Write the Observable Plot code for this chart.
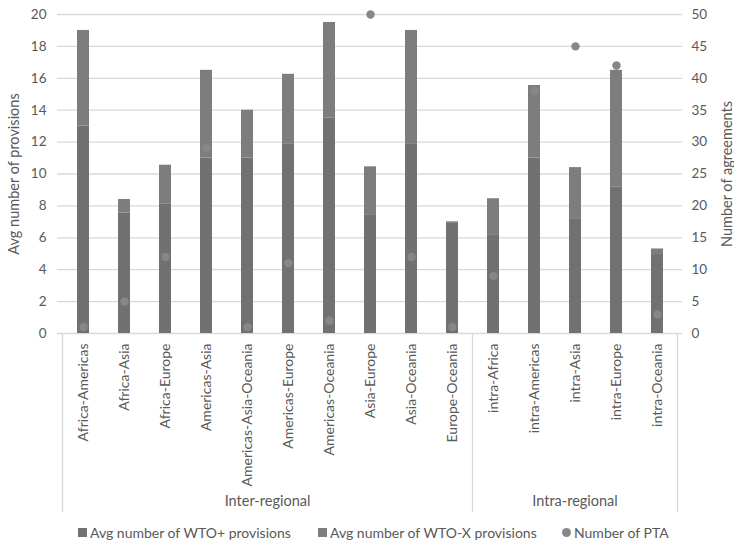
<!DOCTYPE html>
<html>
<head>
<meta charset="utf-8">
<script src="https://cdn.jsdelivr.net/npm/d3@7"></script>
<script src="https://cdn.jsdelivr.net/npm/@observablehq/plot@0.6"></script>
<style>
  body { margin: 0; background: #fff; font-family: Lato, "Open Sans", sans-serif; }
  #legend { font-size: 14px; color: #595959; height: 28px; position: relative; }
  .item { display: flex; align-items: center; position: absolute; top: 9px; }
  .sw { width: 9px; height: 9px; margin-right: 3px; }
  .dotsw { width: 9px; height: 9px; border-radius: 50%; margin-right: 3px; }
</style>
</head>
<body>
<div id="chart"></div>
<div id="legend"></div>
<script>
const categories = ["Africa-Americas","Africa-Asia","Africa-Europe","Americas-Asia","Americas-Asia-Oceania","Americas-Europe","Americas-Oceania","Asia-Europe","Asia-Oceania","Europe-Oceania","intra-Africa","intra-Americas","intra-Asia","intra-Europe","intra-Oceania"];
const groups = ["Inter-regional","Inter-regional","Inter-regional","Inter-regional","Inter-regional","Inter-regional","Inter-regional","Inter-regional","Inter-regional","Inter-regional","Intra-regional","Intra-regional","Intra-regional","Intra-regional","Intra-regional"];
const wtoPlus = [13.0, 7.55, 8.1, 11.0, 11.0, 11.9, 13.5, 7.45, 11.9, 6.9, 6.15, 11.0, 7.2, 9.2, 4.95];
const wtoX    = [6.0, 0.85, 2.45, 5.5, 3.0, 4.35, 6.0, 3.0, 7.1, 0.1, 2.3, 4.55, 3.2, 7.3, 0.35];
const pta     = [1, 5, 12, 29, 1, 11, 2, 50, 12, 1, 9, 38, 45, 42, 3];
const seriesNames = ["Avg number of WTO+ provisions", "Avg number of WTO-X provisions", "Number of PTA"];
const leftTicks = [0,2,4,6,8,10,12,14,16,18,20];
const rightTicks = [0,5,10,15,20,25,30,35,40,45,50];
const colors = ["#717171", "#7d7d7d", "#878787"];

const bars = [];
categories.forEach((c, i) => {
  bars.push({cat: c, series: seriesNames[0], value: wtoPlus[i]});
  bars.push({cat: c, series: seriesNames[1], value: wtoX[i]});
});
const dots = categories.map((c, i) => ({cat: c, pta: pta[i]}));
const ratio = 20 / 50;

const W = 734, H = 515;
const chart = Plot.plot({
  width: W, height: H,
  marginLeft: 57, marginRight: 52, marginTop: 14, marginBottom: H - 333,
  style: {fontFamily: "Lato, 'Open Sans', sans-serif", fontSize: "13px", color: "#595959", background: "#fff"},
  x: {domain: categories, paddingInner: 0.71, paddingOuter: 0.355, label: null},
  y: {domain: [0, 20], label: null},
  color: {domain: seriesNames.slice(0, 2), range: colors.slice(0, 2)},
  marks: [
    Plot.gridY(leftTicks, {stroke: "#d9d9d9", strokeOpacity: 1, strokeWidth: 1.3}),
    Plot.barY(bars, {x: "cat", y: "value", fill: "series"}),
    Plot.dot(dots, {x: "cat", y: d => d.pta * ratio, r: 4.2, fill: colors[2]}),
    Plot.axisY(leftTicks, {anchor: "left", tickSize: 0, tickPadding: 11, label: null, fill: "#595959", fontSize: 13.5}),
    Plot.axisY(rightTicks.map(t => t * ratio), {anchor: "right", tickSize: 0, tickPadding: 9, label: null, fill: "#595959", fontSize: 13.5, tickFormat: d => Math.round(d / ratio)}),
    Plot.axisX({tickRotate: -90, tickSize: 0, tickPadding: 10, label: null, fill: "#595959", fontSize: 14}),
    Plot.text(["Avg number of provisions"], {frameAnchor: "left", textAnchor: "middle", rotate: -90, dx: -43, fontSize: 14.5, fill: "#595959"}),
    Plot.text(["Number of agreements"], {frameAnchor: "right", textAnchor: "middle", rotate: -90, dx: 45, fontSize: 14.5, fill: "#595959"})
  ]
});
document.getElementById("chart").appendChild(chart);

// group separators and labels using Plot's x scale
const xs = chart.scale("x");
const step = xs.step;
const svg = d3.select(chart);
const y0 = 333, y1 = 512;
const groupNames = [...new Set(groups)];
const edges = [];
groupNames.forEach(g => {
  const idx = groups.map((v, i) => v === g ? i : -1).filter(i => i >= 0);
  const l = xs.apply(categories[idx[0]]) + xs.bandwidth / 2 - step / 2;
  const r = xs.apply(categories[idx[idx.length - 1]]) + xs.bandwidth / 2 + step / 2;
  edges.push(l, r);
  svg.append("text").attr("x", (l + r) / 2).attr("y", 502).attr("text-anchor", "middle")
    .attr("dominant-baseline", "middle").attr("fill", "#595959").attr("font-size", 14.5).text(g);
});
[...new Set(edges.map(e => Math.round(e * 10) / 10))].forEach(x => {
  svg.append("line").attr("x1", x).attr("x2", x).attr("y1", y0).attr("y2", y1)
    .attr("stroke", "#d9d9d9").attr("stroke-width", 1.3);
});

// legend
const legend = document.getElementById("legend");
const positions = [78, 318, 562];
seriesNames.forEach((s, i) => {
  const it = document.createElement("div");
  it.className = "item";
  it.style.left = positions[i] + "px";
  const sw = document.createElement("div");
  sw.className = i < 2 ? "sw" : "dotsw";
  sw.style.background = colors[i];
  it.appendChild(sw);
  const t = document.createElement("span");
  t.textContent = s;
  it.appendChild(t);
  legend.appendChild(it);
});
</script>
</body>
</html>
